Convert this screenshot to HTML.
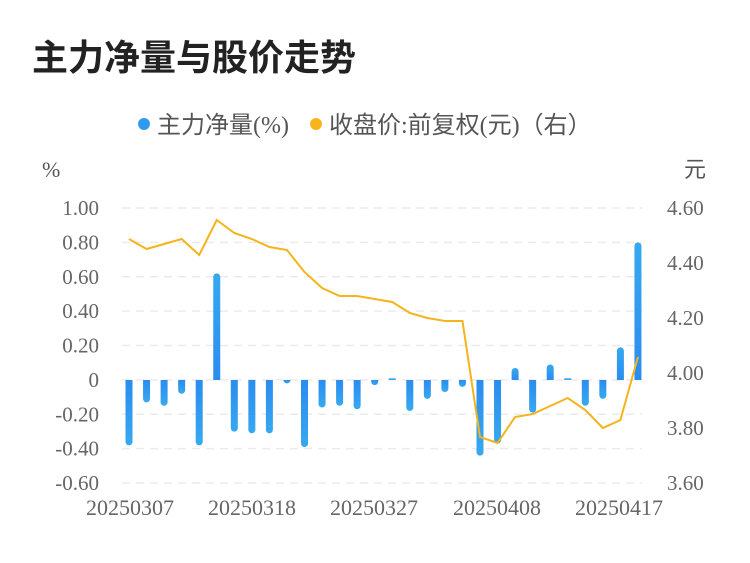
<!DOCTYPE html>
<html><head><meta charset="utf-8"><style>
html,body{margin:0;padding:0;background:#fff;}
body{width:750px;height:558px;overflow:hidden;font-family:"Liberation Sans","Noto Sans CJK SC",sans-serif;}
</style></head><body>
<svg id="s" width="750" height="558" xmlns="http://www.w3.org/2000/svg" font-family="Liberation Serif, Noto Sans CJK SC, serif">
<defs><linearGradient id="g" x1="0" y1="0" x2="0" y2="1"><stop offset="0" stop-color="#36a9f0"/><stop offset="1" stop-color="#2b8cef"/></linearGradient>
<linearGradient id="g2" x1="0" y1="0" x2="0" y2="1"><stop offset="0" stop-color="#2b8cef"/><stop offset="1" stop-color="#36a9f0"/></linearGradient></defs>
<text x="32" y="70" font-size="36" font-weight="bold" fill="#222" font-family="Liberation Sans, Noto Sans CJK SC, sans-serif">主力净量与股价走势</text>
<circle cx="144" cy="124" r="6" fill="#2f9bf0"/>
<text x="157" y="133" font-size="24" fill="#555">主力净量(%)</text>
<circle cx="316" cy="124" r="6" fill="#f7b51b"/>
<text x="329" y="133" font-size="24" fill="#555">收盘价:前复权(元)（右）</text>
<text x="42" y="177" font-size="22" fill="#555">%</text>
<text x="684" y="177" font-size="22" fill="#555">元</text>
<g id="grid" stroke="#ebebeb" stroke-width="1.5" stroke-dasharray="8,6"></g>
<g id="lab" font-size="21" fill="#666"></g>
<g id="bars"></g>
<polyline id="ln" fill="none" stroke="#f5b31c" stroke-width="2"/>
<g font-size="22" fill="#666" text-anchor="middle">
<text x="130" y="515">20250307</text><text x="252" y="515">20250318</text><text x="374" y="515">20250327</text><text x="497" y="515">20250408</text><text x="619" y="515">20250417</text>
</g>
</svg>
<script>
var ns="http://www.w3.org/2000/svg";
function el(t,a,p){var e=document.createElementNS(ns,t);for(var k in a)e.setAttribute(k,a[k]);if(p)document.getElementById(p).appendChild(e);return e;}
var L=["1.00","0.80","0.60","0.40","0.20","0","-0.20","-0.40","-0.60"],R=["4.60","4.40","4.20","4.00","3.80","3.60"];
for(var i=0;i<9;i++){var y=208+i*34.375;el("line",{x1:122,x2:642,y1:y,y2:y},"grid");var t=el("text",{x:99,y:y+7,"text-anchor":"end"},"lab");t.textContent=L[i];}
for(var i=0;i<6;i++){var t=el("text",{x:667,y:208+i*55+7},"lab");t.textContent=R[i];}
var v=[-0.38,-0.13,-0.15,-0.08,-0.38,0.62,-0.30,-0.31,-0.31,-0.02,-0.39,-0.16,-0.15,-0.17,-0.03,0.01,-0.18,-0.11,-0.07,-0.04,-0.44,-0.37,0.07,-0.19,0.09,0.01,-0.15,-0.11,0.19,0.80];
var p=[239,249,244,239,255,220,233,239,247,250,272,288,296,296,299,302,313,318,321,321,437,443,417,414,406,398,410,428,420,357];
var pts=[];
for(var i=0;i<30;i++){var x=129+i*17.55;var h=Math.abs(v[i])*172;var z=380;
 if(v[i]>=0){if(h>3.5)el("path",{d:"M"+(x-3.5)+" "+z+"V"+(z-h+3.5)+"a3.5 3.5 0 0 1 7 0V"+z+"Z",fill:"url(#g)"},"bars");else el("rect",{x:x-3.5,y:z-h,width:7,height:h,fill:"#36a9f0"},"bars");}
 else{el("path",{d:"M"+(x-3.5)+" "+z+"V"+(z+h-3.5)+"a3.5 3.5 0 0 0 7 0V"+z+"Z",fill:"url(#g2)"},"bars");}
 pts.push(x+","+p[i]);}
document.getElementById("ln").setAttribute("points",pts.join(" "));
</script>
</body></html>
